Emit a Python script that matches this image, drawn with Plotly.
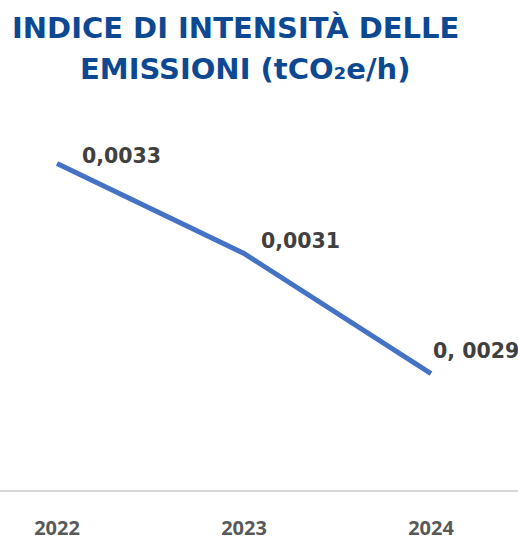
import plotly.graph_objects as go

years = ["2022", "2023", "2024"]
values = [0.003284, 0.003100, 0.002854]
value_labels = ["0,0033", "0,0031", "0, 0029"]
title_lines = ["INDICE DI INTENSITÀ DELLE", "EMISSIONI (tCO₂e/h)"]

# label pixel offsets (style only)
label_dx = [23, 15, 0]
label_dy = [8, 12, 23]

W, H = 518, 541
T, B = 100, 42
plot_h = H - T - B

fig = go.Figure()
fig.add_trace(go.Scatter(
    x=years, y=values, mode="lines",
    line=dict(color="#4472C4", width=5),
    hoverinfo="skip",
))

for i, (v, lab, dx, dy) in enumerate(zip(values, value_labels, label_dx, label_dy)):
    fig.add_annotation(
        x=i, y=v, xref="x", yref="y", text="<b>" + lab + "</b>", showarrow=False,
        xanchor="left", yanchor="middle", xshift=dx, yshift=dy,
        font=dict(family="DejaVu Sans", size=20.5, color="#404040"),
    )

title_x_px = [235, 245]
title_y_px = [26.5, 68.5]
for line, xp, yp in zip(title_lines, title_x_px, title_y_px):
    fig.add_annotation(
        x=xp / W, y=1 + (T - yp) / plot_h, xref="paper", yref="paper",
        text="<b>" + line + "</b>", showarrow=False,
        xanchor="center", yanchor="middle",
        font=dict(family="DejaVu Sans", size=29, color="#0D4892"),
    )

fig.update_layout(
    width=W, height=H,
    margin=dict(l=0, r=0, t=T, b=B, pad=0),
    paper_bgcolor="white", plot_bgcolor="white",
    showlegend=False,
    xaxis=dict(
        type="category", range=[-0.3048, 2.4652],
        showgrid=False, zeroline=False,
        showline=True, linecolor="#D9D9D9", linewidth=2,
        ticks="", ticklabelstandoff=19,
        tickfont=dict(family="Open Sans", size=20, color="#595959", weight="bold"),
    ),
    yaxis=dict(
        range=[0.002616, 0.003414], visible=False,
        showgrid=False, zeroline=False,
    ),
)

fig.write_html(
    "out.html",
    config={"displayModeBar": False},
    post_script="document.body.style.margin='0';document.body.style.overflow='hidden';",
)
